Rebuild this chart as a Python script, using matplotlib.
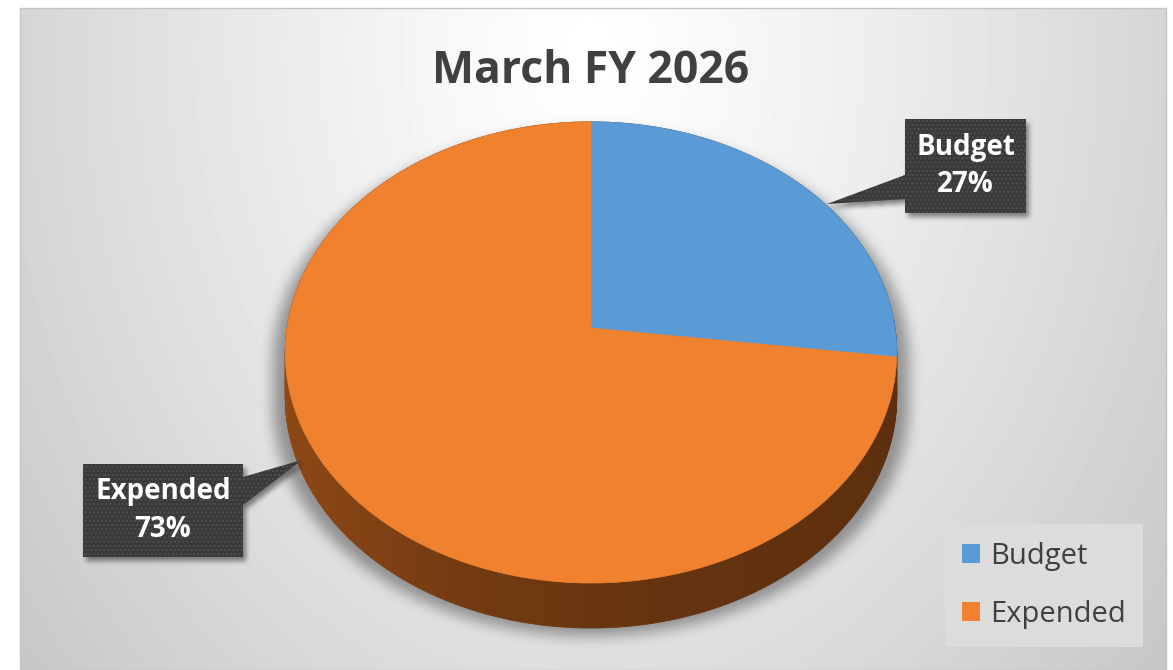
import numpy as np
import matplotlib
matplotlib.use("Agg")
import matplotlib.pyplot as plt
from matplotlib.patches import Polygon, Rectangle, Patch
from matplotlib.collections import PolyCollection
from matplotlib.colors import to_rgb
from matplotlib.path import Path

plt.rcParams['font.family'] = ['Open Sans', 'DejaVu Sans']

# Chart data
title = 'March FY 2026'
categories = ['Budget', 'Expended']
shares = [27, 73]
top_colors = ['#5B9BD5', '#F0812F']
side_colors = ['#2F5A85', '#65330F']

W, H = 1173, 670
fig = plt.figure(figsize=(W / 100, H / 100), dpi=100, facecolor='white')
ax = fig.add_axes([0, 0, 1, 1])


def box_blur(a, k):
    pad = np.pad(a, k, mode='edge')
    c = np.cumsum(pad, axis=0)
    c = np.vstack([np.zeros((1, c.shape[1])), c])
    a = (c[2 * k + 1:] - c[:-2 * k - 1]) / (2 * k + 1)
    c = np.cumsum(a, axis=1)
    c = np.hstack([np.zeros((c.shape[0], 1)), c])
    return (c[:, 2 * k + 1:] - c[:, :-2 * k - 1]) / (2 * k + 1)


def soft_shadow(polys, k, alpha, z):
    # rasterise polygons onto the pixel grid and blur them
    gx, gy = np.meshgrid(np.arange(W) + 0.5, np.arange(H) + 0.5)
    pts = np.column_stack([gx.ravel(), gy.ravel()])
    m = np.zeros(gx.size)
    for p in polys:
        m = np.maximum(m, Path(p).contains_points(pts))
    m = m.reshape(gx.shape)
    for _ in range(3):
        m = box_blur(m, k)
    rgba = np.zeros((H, W, 4))
    rgba[..., 3] = m * alpha
    ax.imshow(rgba, extent=(0, W, H, 0), zorder=z, interpolation='bilinear')


# Panel background with radial grey gradient
px0, px1, py0, py1 = 20, 1166, 8, 670
gx, gy = np.meshgrid(np.arange(px0, px1), np.arange(py0, py1))
r = np.hypot((gx - 590) / 620, (gy - 50) / 820)
shade = 1 - 0.18 * r ** 1.2
ax.imshow(shade, cmap='gray', vmin=0, vmax=1, extent=(px0, px1, py1, py0),
          zorder=0, interpolation='bilinear')
ax.add_patch(Rectangle((px0, py0), px1 - px0, py1 - py0, fill=False,
                       edgecolor='#c4c4c4', lw=1, zorder=1))

# 3-D pie geometry (perspective-tilted disc)
cx, cy = 591, 328
rx, ry, persp = 304, 228, 0.106
depth = 45


def rim(theta, drop=0.0):
    u = np.sin(theta)
    w = np.cos(theta)
    d = 1 + persp * w
    return np.column_stack([cx + rx * u / d, cy - ry * w / d + drop])


fractions = np.array(shares, dtype=float) / sum(shares)
edges = np.concatenate([[0], np.cumsum(fractions)]) * 2 * np.pi

# silhouette for the drop shadow
th = np.linspace(0, 2 * np.pi, 721)
outline = rim(th)
i_right, i_left = np.argmax(outline[:, 0]), np.argmin(outline[:, 0])
front = (th >= th[i_right]) & (th <= th[i_left])
outline[front, 1] += depth
sil = outline.copy()
sil[:, 0] = cx + (sil[:, 0] - cx) * 1.04
sil[:, 1] = sil[:, 1] + 8
soft_shadow([sil], 6, 0.36, 2)

# side walls
for i in range(len(shares)):
    t = np.linspace(edges[i], edges[i + 1], max(int(fractions[i] * 400), 8))
    up, lo = rim(t), rim(t, depth)
    quads, cols = [], []
    base = np.array(to_rgb(side_colors[i]))
    for j in range(len(t) - 1):
        quads.append([up[j], up[j + 1], lo[j + 1], lo[j]])
        u = np.sin((t[j] + t[j + 1]) / 2)
        gain = np.interp(u, [-1, -0.4, 0.2, 1], [1.42, 1.15, 1.0, 0.92])
        cols.append(np.clip(base * gain, 0, 1))
    ax.add_collection(PolyCollection(quads, facecolors=cols, edgecolors=cols,
                                     linewidths=0.6, zorder=3))

# top faces
for i in range(len(shares)):
    t = np.linspace(edges[i], edges[i + 1], max(int(fractions[i] * 400), 8))
    pts = np.vstack([[cx, cy], rim(t)])
    ax.add_patch(Polygon(pts, closed=True, facecolor=top_colors[i],
                         edgecolor=top_colors[i], lw=0.5, zorder=4))

# data callouts
callouts = [
    dict(box=(905, 119, 1026, 213), tip=(827, 204), base=(175, 199), side='left'),
    dict(box=(83, 464, 243, 557), tip=(302, 460), base=(477, 505), side='right'),
]
shapes = []
for c in callouts:
    x0, y0, x1, y1 = c['box']
    b0, b1 = c['base']
    if c['side'] == 'left':
        shape = [(x0, y0), (x1, y0), (x1, y1), (x0, y1), (x0, b1), c['tip'], (x0, b0)]
    else:
        shape = [(x0, y0), (x1, y0), (x1, b0), c['tip'], (x1, b1), (x1, y1), (x0, y1)]
    shapes.append(np.array(shape, dtype=float))

soft_shadow([s + [3, 4] for s in shapes], 2, 0.45, 5)
for c, s, cat, val in zip(callouts, shapes, categories, shares):
    ax.add_patch(Polygon(s, closed=True, facecolor='#3a3a3a', edgecolor='none', zorder=6))
    ax.add_patch(Polygon(s, closed=True, facecolor='none', edgecolor='#4f4f4f',
                         hatch='....', lw=0, zorder=6))
    x0, y0, x1, y1 = c['box']
    ax.text((x0 + x1) / 2, (y0 + y1) / 2, f'{cat}\n{val}%', ha='center', va='center',
            color='white', fontsize=20, fontweight='bold', linespacing=1.4, zorder=7)

# title
ax.text(591, 83, title, ha='center', va='baseline', fontsize=32,
        fontweight='bold', color='#404040', zorder=7)

# legend
handles = [Patch(facecolor=col, edgecolor='none', label=cat)
           for cat, col in zip(categories, top_colors)]
leg = ax.legend(handles=handles, loc='center', bbox_to_anchor=(1044, 585.5),
                bbox_transform=ax.transData, fontsize=21, frameon=True,
                facecolor='#dcdcdc', edgecolor='none', framealpha=1, fancybox=False,
                handlelength=0.62, handleheight=0.62, handletextpad=0.34,
                labelspacing=1.0, borderpad=0.6)
for txt in leg.get_texts():
    txt.set_color('#404040')
leg.set_zorder(8)

ax.set_xlim(0, W)
ax.set_ylim(H, 0)
ax.set_aspect('auto')
ax.axis('off')

fig.savefig('out.png', dpi=100, facecolor='white')
